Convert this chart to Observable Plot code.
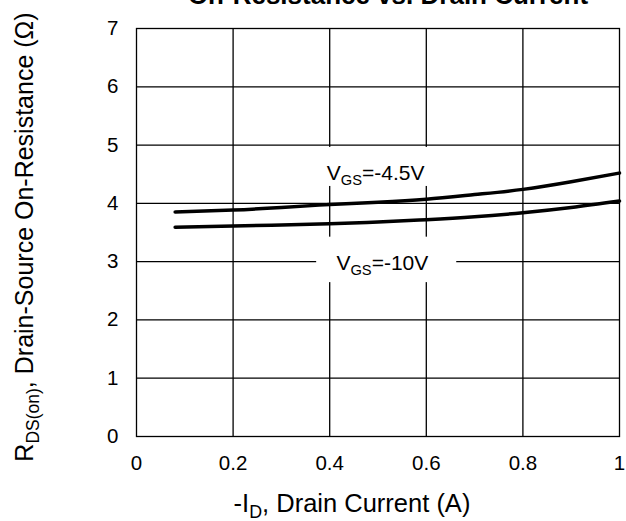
<!DOCTYPE html>
<html><head><meta charset="utf-8">
<script src="https://cdn.jsdelivr.net/npm/d3@7"></script>
<script src="https://cdn.jsdelivr.net/npm/@observablehq/plot@0.6"></script>
<style>
body{margin:0;background:#fff}
svg{font-family:"Liberation Sans",Arial,Helvetica,sans-serif}
</style>
</head><body><div id="chart"></div>
<script>
// ---- data ----
const chartTitle = "On-Resistance vs. Drain Current";
const xTitle = "-I_{D}, Drain Current (A)";
const yTitle = "R_{DS(on)}, Drain-Source On-Resistance (Ω)";
const xTicks = [0, 0.2, 0.4, 0.6, 0.8, 1];
const yTicks = [0, 1, 2, 3, 4, 5, 6, 7];
const current = [0.08, 0.2, 0.3, 0.4, 0.5, 0.6, 0.7, 0.8, 0.9, 1.0];
const rVgs45 = [3.85, 3.885, 3.93, 3.98, 4.02, 4.07, 4.15, 4.24, 4.37, 4.52];
const rVgs10 = [3.59, 3.61, 3.63, 3.65, 3.68, 3.72, 3.77, 3.84, 3.93, 4.04];
const seriesLabels = ["V_{GS}=-4.5V", "V_{GS}=-10V"];
const labelX = [0.495, 0.509];
const labelY = [4.395, 2.85];
// white boxes behind labels (data units)
const boxX1 = [0.381, 0.373];
const boxX2 = [0.613, 0.663];
const boxY1 = [4.29, 2.64];
const boxY2 = [4.96, 3.42];

const series = [
  current.map((x, i) => ({x, r: rVgs45[i]})),
  current.map((x, i) => ({x, r: rVgs10[i]}))
];
const labels = seriesLabels.map((t, i) => ({t, x: labelX[i], y: labelY[i]}));
const boxes = boxX1.map((_, i) => ({x1: boxX1[i], x2: boxX2[i], y1: boxY1[i], y2: boxY2[i]}));

const W = 626, H = 521;
const grid = {stroke: "#000", strokeWidth: 1.3, strokeOpacity: 1};

const plot = Plot.plot({
  width: W, height: H,
  marginLeft: 136, marginRight: 7, marginTop: 28, marginBottom: 85,
  style: {background: "#fff", color: "#000", fontFamily: "'Liberation Sans', Arial, sans-serif"},
  x: {domain: [0, 1]},
  y: {domain: [0, 7]},
  marks: [
    Plot.ruleX(xTicks.slice(1, -1), grid),
    Plot.ruleY(yTicks.slice(1, -1), grid),
    Plot.rect(boxes, {x1: "x1", x2: "x2", y1: "y1", y2: "y2", fill: "#fff"}),
    Plot.frame({stroke: "#000", strokeWidth: 1.3}),
    Plot.axisX({ticks: xTicks, tickFormat: d => String(d), tickSize: 0, tickPadding: 19, fontSize: 20.5, label: null}),
    Plot.axisY({ticks: yTicks, tickFormat: d => String(d), tickSize: 0, tickPadding: 18, fontSize: 20.5, label: null}),
    Plot.line(series[0], {x: "x", y: "r", stroke: "#000", strokeWidth: 3.5, curve: "natural"}),
    Plot.line(series[1], {x: "x", y: "r", stroke: "#000", strokeWidth: 3.5, curve: "natural"}),
    Plot.text(labels, {x: "x", y: "y", text: "t", fontSize: 21, fill: "#000", lineAnchor: "bottom"})
  ]
});
document.getElementById("chart").appendChild(plot);

// rich text (subscripts)
function fillRich(textEl, str, size) {
  const parts = str.split(/(_\{[^}]*\})/).filter(s => s.length);
  textEl.text(null);
  let lowered = false;
  const sub = size * 0.7, shift = size * 0.22;
  for (const p of parts) {
    if (p.startsWith("_{")) {
      textEl.append("tspan").attr("font-size", sub).attr("dy", lowered ? 0 : shift).text(p.slice(2, -1));
      lowered = true;
    } else {
      textEl.append("tspan").attr("font-size", size).attr("dy", lowered ? -shift : 0).text(p);
      lowered = false;
    }
  }
}
const svg = d3.select(plot);
svg.selectAll("text").each(function() {
  const t = d3.select(this);
  const s = t.text();
  if (s.includes("_{")) {
    t.attr("dy", null);
    fillRich(t, s, 21);
  }
});
// titles
const g = svg.append("g").attr("fill", "#000");
g.append("text").attr("x", 388).attr("y", 4).attr("text-anchor", "middle")
  .attr("font-size", 26).attr("font-weight", "bold").text(chartTitle);
fillRich(g.append("text").attr("x", 352).attr("y", 512).attr("text-anchor", "middle"), xTitle, 25.5);
fillRich(g.append("text").attr("transform", "translate(33,237) rotate(-90)").attr("text-anchor", "middle"), yTitle, 25);
</script>
</body></html>
